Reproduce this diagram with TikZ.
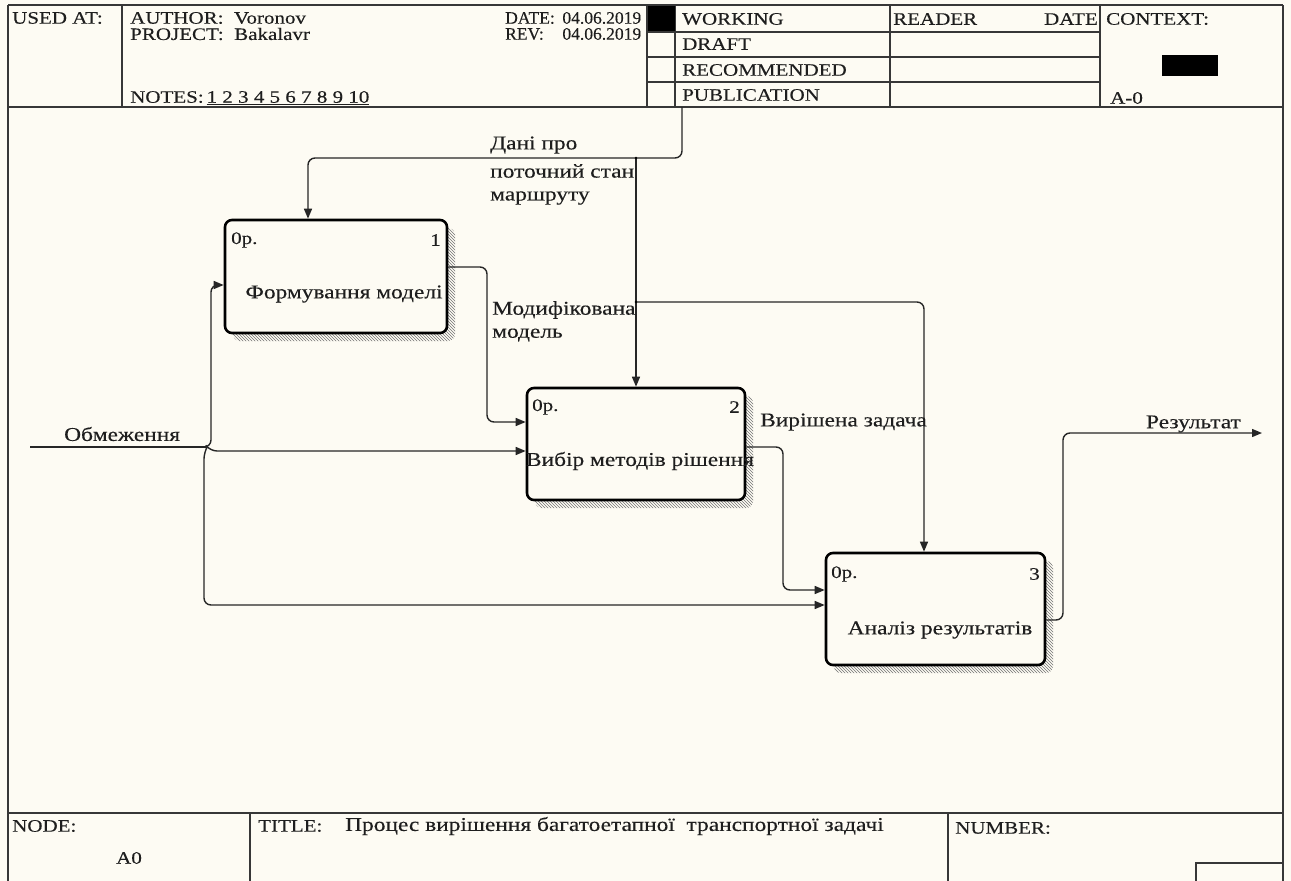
\documentclass[tikz,border=0pt]{standalone}
\usepackage{fontspec}
\setmainfont{Liberation Serif}[FakeStretch=1.2,FakeBold=0.25]
\newfontfamily\narrowfont{Liberation Serif}[FakeStretch=1.0,FakeBold=0.25]
\usetikzlibrary{arrows.meta,patterns}
\definecolor{bg}{RGB}{253,251,243}
\definecolor{ln}{RGB}{55,55,55}
\definecolor{tx}{RGB}{30,30,30}
\begin{document}
\begin{tikzpicture}[x=1pt,y=-1pt,
  font=\fontsize{17.5}{21}\selectfont,
  frame/.style={draw=ln, line width=1.3pt},
  txt/.style={inner sep=0pt, anchor=west, text=tx},
  lab/.style={txt, font=\fontsize{19.5}{23}\selectfont},
  datetxt/.style={txt, font=\narrowfont\fontsize{17.5}{21}\selectfont, text width=136pt, align=left},
  boxnode/.style={draw=black, line width=2.6pt, rounded corners=7pt, fill=bg, inner sep=0pt},
  shade/.style={pattern=north west lines, pattern color=black!55, rounded corners=7pt},
  conn/.style={draw=black!85, line width=1.4pt, rounded corners=7pt},
  arr/.style={conn, -{Triangle[length=10pt,width=8pt]}}
]
\fill[bg] (0,0) rectangle (1291,881);
\useasboundingbox (0,0) rectangle (1291,881);

% ---------- frame ----------
\draw[frame] (8,5) -- (1283,5);
\draw[frame] (8,5) -- (8,881);
\draw[frame] (1283,5) -- (1283,881);
\draw[frame] (8,107) -- (1283,107);
\draw[frame] (8,813) -- (1283,813);
\foreach \x in {122,647,675,890,1100} \draw[frame] (\x,5) -- (\x,107);
\foreach \y in {32,57,82} \draw[frame] (647,\y) -- (1100,\y);
\fill[black] (648,6) rectangle (675,31);
\fill[black] (1162,55) rectangle (1218,76);
\draw[frame] (250,813) -- (250,881);
\draw[frame] (948,813) -- (948,881);
\draw[frame] (1196,881) -- (1196,863) -- (1283,863);

% ---------- header text ----------
\node[txt] (usedat) at (12,18) {USED AT:};
\node[txt] (author) at (130,18) {AUTHOR:\ \ Voronov};
\node[txt] (project) at (130,34) {PROJECT:\ \ Bakalavr};
\node[txt] (notes) at (130,98) {NOTES:\,\underline{1 2 3 4 5 6 7 8 9 10}};
\node[datetxt] (date) at (505,18) {DATE:\hfill 04.06.2019};
\node[datetxt] (rev) at (505,34) {REV:\hfill 04.06.2019};
\node[txt] (working) at (682,19) {WORKING};
\node[txt] (draft) at (682,44) {DRAFT};
\node[txt] (recom) at (682,70) {RECOMMENDED};
\node[txt] (public) at (682,95) {PUBLICATION};
\node[txt] (reader) at (893,19) {READER};
\node[txt, anchor=east] (rdate) at (1098,19) {DATE};
\node[txt] (context) at (1106,19) {CONTEXT:};
\node[txt] (a0ctx) at (1110,98) {A-0};

% ---------- footer text ----------
\node[txt] (nodelbl) at (12,826) {NODE:};
\node[txt] (a0) at (116,858) {A0};
\node[txt] (titlelbl) at (258,826) {TITLE:};
\node[lab] (title) at (345,826) {Процес вирішення багатоетапної\ \ транспортної задачі};
\node[txt] (number) at (955,828) {NUMBER:};

% ---------- shadows ----------
\fill[shade] (233,228) rectangle (455,341);
\fill[shade] (535,396) rectangle (753,508);
\fill[shade] (834,561) rectangle (1053,673);

% ---------- boxes ----------
\node[boxnode, minimum width=222pt, minimum height=113pt] (b1) at (336,276.5) {};
\node[boxnode, minimum width=218pt, minimum height=112pt] (b2) at (636,444) {};
\node[boxnode, minimum width=219pt, minimum height=112pt] (b3) at (935.5,609) {};

\node[txt] (b1op) at (231,240) {0p.};
\node[txt, anchor=east] (b1n) at (441,240) {1};
\node[lab, anchor=center] (b1t) at (344,294) {Формування моделі};
\node[txt] (b2op) at (532,407) {0p.};
\node[txt, anchor=east] (b2n) at (740,407) {2};
\node[lab, anchor=center] (b2t) at (640,461) {Вибір методів рішення};
\node[txt] (b3op) at (831,574) {0p.};
\node[txt, anchor=east] (b3n) at (1040,574) {3};
\node[lab, anchor=center] (b3t) at (940,630) {Аналіз результатів};

% ---------- connectors ----------
\coordinate (cin) at (682,107);
\coordinate (j1) at (636,158);
\coordinate (j2) at (636,302);
\coordinate (lin) at (30,447);
\coordinate (j3) at (207,447);
\coordinate (rout) at (1262,433);

\draw[arr] (cin) -- (cin |- j1) -- ([xshift=-28pt]b1.north |- j1) -- ([xshift=-28pt]b1.north);
\draw[arr] (j1) -- (b2.north);
\draw[arr] (j2) -- ([xshift=-11.5pt]b3.north |- j2) -- ([xshift=-11.5pt]b3.north);
\fill[black] (j1) circle (1.3pt);
\fill[black] (j2) circle (1.3pt);

\draw[arr] ([yshift=9.5pt]b1.east) -- (487,267) -- (487,422) -- ([yshift=22pt]b2.west);

\draw[conn] (lin) -- (j3);
\draw[arr] (j3) -- (211,447) -- (211,285) -- ([yshift=-8.5pt]b1.west);
\draw[arr] (j3) -- (210,451) -- ([yshift=-7pt]b2.west);
\draw[arr] (j3) -- (204,452) -- (204,605) -- ([yshift=4pt]b3.west);

\draw[arr] ([yshift=-3pt]b2.east) -- (783,447) -- (783,590) -- ([yshift=19pt]b3.west);
\draw[arr] ([yshift=-11pt]b3.east) -- (1063,620) -- (1063,433) -- (rout);

% ---------- labels ----------
\node[lab] (l1a) at (490,145) {Дані про};
\node[lab] (l1b) at (490,171) {поточний стан};
\node[lab] (l1c) at (490,198) {маршруту};
\node[lab] (l2a) at (492,310) {Модифікована};
\node[lab] (l2b) at (492,335) {модель};
\node[lab] (l3) at (760,422) {Вирішена задача};
\node[lab] (l4) at (64,434) {Обмеження};
\node[lab, anchor=east] (l5) at (1241,424) {Результат};
\end{tikzpicture}
\end{document}
